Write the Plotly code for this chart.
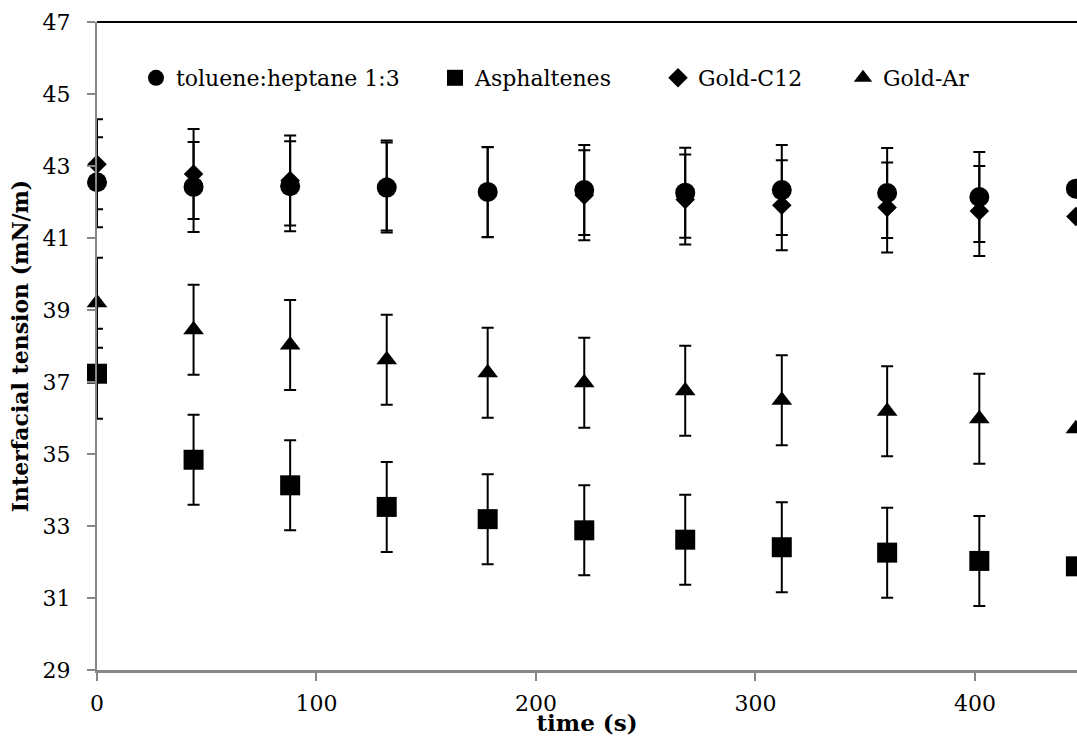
import plotly.graph_objects as go

time_s = [0, 44, 88, 132, 178, 222, 268, 312, 360, 402, 446]

toluene_heptane = [42.55, 42.42, 42.44, 42.40, 42.28, 42.33, 42.26, 42.33, 42.25, 42.14, 42.37]
asphaltenes = [37.23, 34.84, 34.13, 33.53, 33.19, 32.88, 32.62, 32.41, 32.26, 32.03, 31.88]
gold_c12 = [43.05, 42.78, 42.60, 42.46, 42.27, 42.19, 42.07, 41.91, 41.85, 41.75, 41.60]
gold_ar = [39.20, 38.45, 38.03, 37.62, 37.26, 36.98, 36.76, 36.49, 36.19, 35.98, 35.70]

# error bars of the last point lie outside the visible plot area (not readable)
err_toluene = [1.25] * 10 + [None]
err_asph = [1.25] * 10 + [None]
err_c12 = [1.25] * 10 + [None]
err_ar = [1.25] * 10 + [None]

x_ticks = [0, 100, 200, 300, 400]
y_ticks = [29, 31, 33, 35, 37, 39, 41, 43, 45, 47]

FONT = "DejaVu Serif"

series = [
    ("toluene:heptane 1:3", toluene_heptane, err_toluene, "circle", 20, "legend"),
    ("Asphaltenes", asphaltenes, err_asph, "square", 20, "legend2"),
    ("Gold-C12", gold_c12, err_c12, "diamond", 15, "legend3"),
    ("Gold-Ar", gold_ar, err_ar, "triangle-up", 18, "legend4"),
]

fig = go.Figure()
for name, vals, err, sym, size, leg in series:
    # error bars: clipped to the plot area (as in the original)
    fig.add_trace(go.Scatter(
        x=time_s, y=vals, name=name, mode="markers", showlegend=False,
        marker=dict(size=1, color="rgba(0,0,0,0)"),
        error_y=dict(type="data", array=err, visible=True, color="black",
                     thickness=2, width=6),
        cliponaxis=True, hoverinfo="skip",
    ))
    # markers: drawn in full, not clipped
    fig.add_trace(go.Scatter(
        x=time_s, y=vals, name=name, mode="markers",
        marker=dict(symbol=sym, size=size, color="black", line=dict(width=0)),
        cliponaxis=False, legend=leg,
    ))

legend_common = dict(orientation="h", yanchor="middle", xanchor="left",
                     font=dict(family=FONT, size=22, color="black"),
                     bgcolor="rgba(0,0,0,0)", borderwidth=0, itemsizing="trace")

W, H = 1077, 736
ML, MR, MT, MB = 97, 0, 22, 66
PW = W - ML - MR
PH = H - MT - MB

def lx(px):
    return (px - 97) / PW

ly = (670 - 78) / PH

fig.update_layout(
    width=W, height=H,
    margin=dict(l=ML, r=MR, t=MT, b=MB),
    paper_bgcolor="white", plot_bgcolor="white",
    font=dict(family=FONT, size=22, color="black"),
    showlegend=True,
    legend=dict(x=lx(136), y=ly, **legend_common),
    legend2=dict(x=lx(435), y=ly, **legend_common),
    legend3=dict(x=lx(658), y=ly, **legend_common),
    legend4=dict(x=lx(843), y=ly, **legend_common),
    xaxis=dict(
        range=[0, 446.5], tickvals=x_ticks, ticktext=[str(v) for v in x_ticks],
        showgrid=False, zeroline=False, showline=True, linecolor="#868686", linewidth=3,
        ticks="outside", ticklen=8, tickwidth=1.5, tickcolor="#868686",
        tickfont=dict(family=FONT, size=22, color="black"), ticklabelstandoff=4,
        title=dict(text="<b>time (s)</b>", font=dict(family=FONT, size=23, color="black"), standoff=1),
        automargin=False,
    ),
    yaxis=dict(
        range=[29, 47], tickvals=y_ticks, ticktext=[str(v) for v in y_ticks],
        showgrid=False, zeroline=False, showline=True, linecolor="#868686", linewidth=2,
        ticks="outside", ticklen=8, tickwidth=1.5, tickcolor="#868686",
        tickfont=dict(family=FONT, size=22, color="black"), ticklabelstandoff=12,
        title=dict(text="<b>Interfacial tension (mN/m)</b>", font=dict(family=FONT, size=22, color="black"), standoff=8),
        automargin=False,
    ),
    shapes=[dict(type="line", xref="paper", yref="paper", x0=0, x1=1, y0=1, y1=1,
                 line=dict(color="black", width=2), layer="above")],
)

fig.write_html("out.html", config={"displayModeBar": False},
               post_script="document.body.style.margin='0';document.body.style.overflow='hidden';")
